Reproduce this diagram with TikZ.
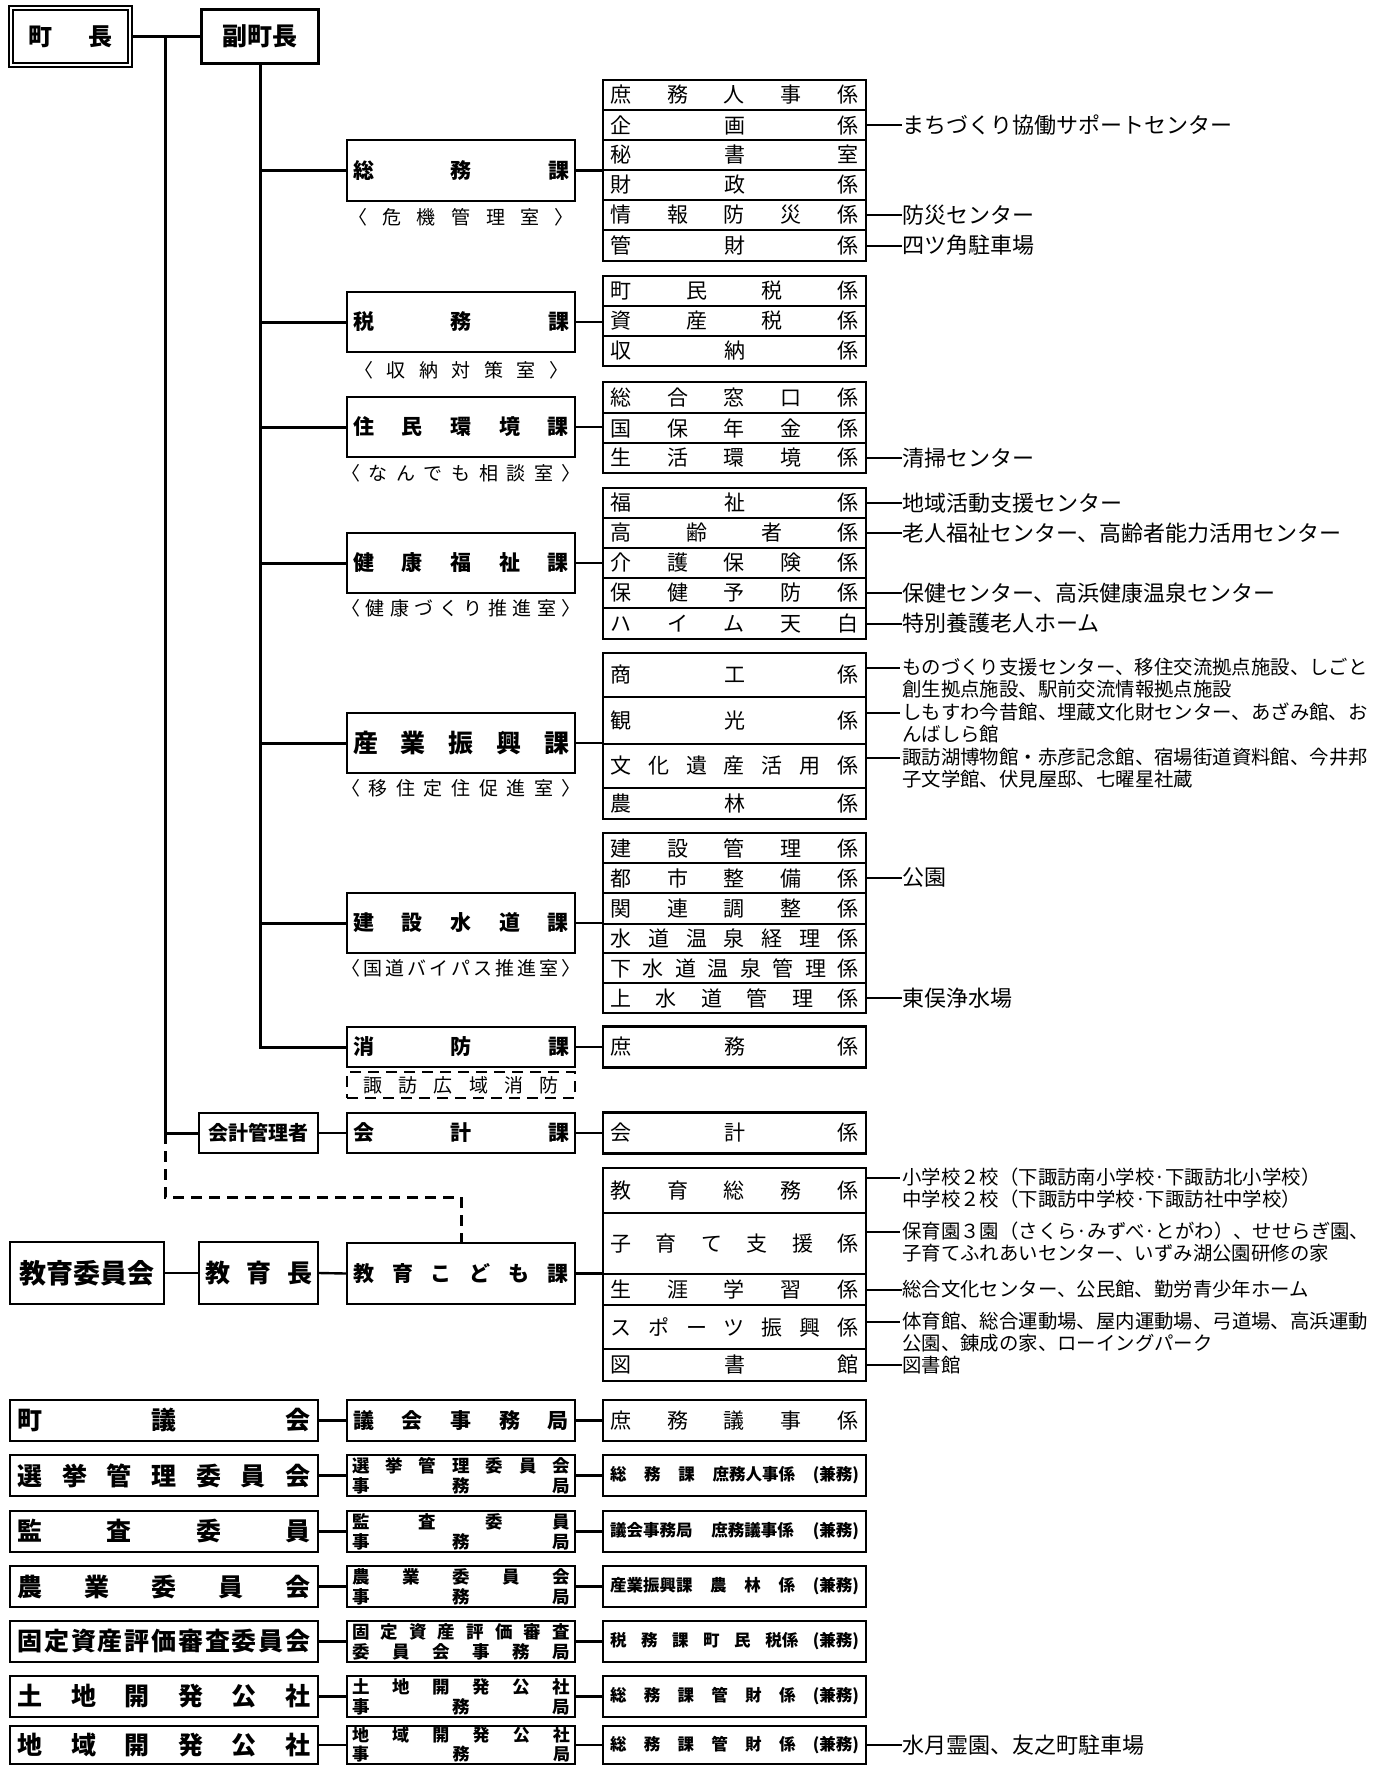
\documentclass[tikz,border=0pt]{standalone}
\usepackage{fontspec}
\setmainfont{Noto Sans CJK JP}
\usepackage{tikz}
\usetikzlibrary{matrix,shapes,arrows,positioning,chains}

\def\sprdnext#1{\ifx\relax#1\else\hfill#1\expandafter\sprdnext\fi}
\def\sprdfirst#1{#1\sprdnext}
\newcommand\sprd[2]{\makebox[#1][s]{\sprdfirst#2\relax}}

\begin{document}
\begin{tikzpicture}[x=1pt,y=-1pt,
  box/.style={draw,line width=2.4pt,inner sep=0pt},
  kabox/.style={box,minimum width=228pt,font=\fontsize{21}{24}\selectfont\bfseries},
  rowbox/.style={box,minimum width=263pt,font=\fontsize{21}{24}\selectfont},
  topbox/.style={box,font=\fontsize{25}{28}\selectfont\bfseries},
  iinbox/.style={box,minimum width=308pt,minimum height=41pt,font=\fontsize{25}{28}\selectfont\bfseries},
  jimbox/.style={box,minimum width=228pt,minimum height=41pt,align=center,font=\fontsize{17.5}{20}\selectfont\bfseries},
  kenbox/.style={box,minimum width=263pt,minimum height=41pt,font=\fontsize{16.5}{19}\selectfont\bfseries},
  sublabel/.style={inner sep=0pt,font=\fontsize{19}{22}\selectfont},
  note/.style={anchor=west,inner sep=0pt,font=\fontsize{22}{24}\selectfont},
  notesm/.style={anchor=west,inner sep=0pt,font=\fontsize{19.4}{22}\selectfont},
  notetwo/.style={anchor=north west,inner sep=0pt,align=left,font=\fontsize{19.4}{22}\selectfont},
  spine/.style={line width=3pt},
  link/.style={line width=2.4pt},
  notelink/.style={line width=2pt},
  dsh/.style={line width=3pt,dash pattern=on 11pt off 7pt}
]
\fill[white] (0,0) rectangle (1385,1767);
\useasboundingbox (0,0) rectangle (1385,1767);

% top
\node[draw,double,line width=1.6pt,double distance=2pt,inner sep=0pt,minimum width=119pt,minimum height=57pt,
  font=\fontsize{24}{28}\selectfont\bfseries] (chocho) at (70.5,36.5) {\sprd{85pt}{町長}};
\node[topbox,minimum width=117pt,minimum height=54pt] (fuku) at (260,36.5) {副町長};
\coordinate (jct) at (165,36.5);

% ka
\node[kabox,minimum height=61pt] (somu) at (461,170.5) {\sprd{216pt}{総務課}};
\node[kabox,minimum height=60pt] (zeimu) at (461,322) {\sprd{216pt}{税務課}};
\node[kabox,minimum height=60pt] (jumin) at (461,427) {\sprd{216pt}{住民環境課}};
\node[kabox,minimum height=60pt] (kenko) at (461,563) {\sprd{216pt}{健康福祉課}};
\node[kabox,minimum height=60pt,font=\fontsize{25}{28}\selectfont\bfseries] (sangyo) at (461,743) {\sprd{216pt}{産業振興課}};
\node[kabox,minimum height=60pt] (kensetsu) at (461,923) {\sprd{216pt}{建設水道課}};
\node[kabox,minimum height=40pt] (shobo) at (461,1047) {\sprd{216pt}{消防課}};
\node[kabox,minimum height=40pt] (kaikei) at (461,1133) {\sprd{216pt}{会計課}};
\node[kabox,minimum height=61pt] (kyoiku) at (461,1273.5) {\sprd{216pt}{教育こども課}};

\node[sublabel] (lsomu) at (461,217) {\sprd{226pt}{〈危機管理室〉}};
\node[sublabel] (lzeimu) at (461,370) {\sprd{214pt}{〈収納対策室〉}};
\node[sublabel] (ljumin) at (461,473) {\sprd{240pt}{〈なんでも相談室〉}};
\node[sublabel] (lkenko) at (461,608) {\sprd{240pt}{〈健康づくり推進室〉}};
\node[sublabel] (lsangyo) at (461,788) {\sprd{240pt}{〈移住定住促進室〉}};
\node[sublabel] (lkensetsu) at (461,968) {\sprd{240pt}{〈国道バイパス推進室〉}};
\node[draw,dash pattern=on 11pt off 7pt,line width=2.6pt,inner sep=0pt,minimum width=228pt,minimum height=26pt,
  font=\fontsize{19}{22}\selectfont] (koiki) at (461,1085) {\sprd{195pt}{諏訪広域消防}};

\node[topbox,minimum width=119pt,minimum height=40pt,font=\fontsize{20}{24}\selectfont\bfseries] (kanri) at (258.5,1133) {会計管理者};
\node[topbox,minimum width=154pt,minimum height=62pt,font=\fontsize{27}{30}\selectfont\bfseries] (kyoiin) at (87,1273) {教育委員会};
\node[topbox,minimum width=119pt,minimum height=62pt] (kyoikucho) at (258.5,1273) {\sprd{107pt}{教育長}};
\coordinate (dshc) at (165,1197);

% kakari
\node[rowbox,minimum height=30pt] (s1) at (734.5,95) {\sprd{248pt}{庶務人事係}};
\node[rowbox,minimum height=30pt] (s2) at (734.5,125) {\sprd{248pt}{企画係}};
\node[rowbox,minimum height=30pt] (s3) at (734.5,155) {\sprd{248pt}{秘書室}};
\node[rowbox,minimum height=30pt] (s4) at (734.5,185) {\sprd{248pt}{財政係}};
\node[rowbox,minimum height=30pt] (s5) at (734.5,215) {\sprd{248pt}{情報防災係}};
\node[rowbox,minimum height=31pt] (s6) at (734.5,245.5) {\sprd{248pt}{管財係}};

\node[rowbox,minimum height=30pt] (z1) at (734.5,291) {\sprd{248pt}{町民税係}};
\node[rowbox,minimum height=30pt] (z2) at (734.5,321) {\sprd{248pt}{資産税係}};
\node[rowbox,minimum height=30pt] (z3) at (734.5,351) {\sprd{248pt}{収納係}};

\node[rowbox,minimum height=31pt] (j1) at (734.5,397.5) {\sprd{248pt}{総合窓口係}};
\node[rowbox,minimum height=30pt] (j2) at (734.5,428) {\sprd{248pt}{国保年金係}};
\node[rowbox,minimum height=30pt] (j3) at (734.5,458) {\sprd{248pt}{生活環境係}};

\node[rowbox,minimum height=30pt] (k1) at (734.5,503) {\sprd{248pt}{福祉係}};
\node[rowbox,minimum height=30pt] (k2) at (734.5,533) {\sprd{248pt}{高齢者係}};
\node[rowbox,minimum height=30pt] (k3) at (734.5,563) {\sprd{248pt}{介護保険係}};
\node[rowbox,minimum height=30pt] (k4) at (734.5,593) {\sprd{248pt}{保健予防係}};
\node[rowbox,minimum height=31pt] (k5) at (734.5,623.5) {\sprd{248pt}{ハイム天白}};

\node[rowbox,minimum height=44pt] (g1) at (734.5,675) {\sprd{248pt}{商工係}};
\node[rowbox,minimum height=47pt] (g2) at (734.5,720.5) {\sprd{248pt}{観光係}};
\node[rowbox,minimum height=44pt] (g3) at (734.5,766) {\sprd{248pt}{文化遺産活用係}};
\node[rowbox,minimum height=31pt] (g4) at (734.5,803.5) {\sprd{248pt}{農林係}};

\node[rowbox,minimum height=30pt] (c1) at (734.5,848) {\sprd{248pt}{建設管理係}};
\node[rowbox,minimum height=30pt] (c2) at (734.5,878) {\sprd{248pt}{都市整備係}};
\node[rowbox,minimum height=31pt] (c3) at (734.5,908.5) {\sprd{248pt}{関連調整係}};
\node[rowbox,minimum height=29pt] (c4) at (734.5,938.5) {\sprd{248pt}{水道温泉経理係}};
\node[rowbox,minimum height=30pt] (c5) at (734.5,968) {\sprd{248pt}{下水道温泉管理係}};
\node[rowbox,minimum height=30pt] (c6) at (734.5,998) {\sprd{248pt}{上水道管理係}};

\node[rowbox,minimum height=41pt] (f1) at (734.5,1047) {\sprd{248pt}{庶務係}};
\node[rowbox,minimum height=41pt] (a1) at (734.5,1133) {\sprd{248pt}{会計係}};

\node[rowbox,minimum height=45pt] (e1) at (734.5,1190.5) {\sprd{248pt}{教育総務係}};
\node[rowbox,minimum height=61pt] (e2) at (734.5,1243.5) {\sprd{248pt}{子育て支援係}};
\node[rowbox,minimum height=31pt] (e3) at (734.5,1289.5) {\sprd{248pt}{生涯学習係}};
\node[rowbox,minimum height=44pt] (e4) at (734.5,1327) {\sprd{248pt}{スポーツ振興係}};
\node[rowbox,minimum height=32pt] (e5) at (734.5,1365) {\sprd{248pt}{図書館}};

% iinkai
\node[iinbox] (b1) at (164,1420.5) {\sprd{293pt}{町議会}};
\node[iinbox] (b2) at (164,1475.5) {\sprd{293pt}{選挙管理委員会}};
\node[iinbox] (b3) at (164,1531.5) {\sprd{293pt}{監査委員}};
\node[iinbox] (b4) at (164,1586.5) {\sprd{293pt}{農業委員会}};
\node[iinbox] (b5) at (164,1641.5) {\sprd{293pt}{固定資産評価審査委員会}};
\node[iinbox] (b6) at (164,1696.5) {\sprd{293pt}{土地開発公社}};
\node[iinbox,minimum height=38pt] (b7) at (164,1745) {\sprd{293pt}{地域開発公社}};

\node[kabox,minimum height=41pt] (m1) at (461,1420.5) {\sprd{216pt}{議会事務局}};
\node[jimbox] (m2) at (461,1475.5) {\sprd{218pt}{選挙管理委員会}\\\sprd{218pt}{事務局}};
\node[jimbox] (m3) at (461,1531.5) {\sprd{218pt}{監査委員}\\\sprd{218pt}{事務局}};
\node[jimbox] (m4) at (461,1586.5) {\sprd{218pt}{農業委員会}\\\sprd{218pt}{事務局}};
\node[jimbox] (m5) at (461,1641.5) {\sprd{218pt}{固定資産評価審査}\\\sprd{218pt}{委員会事務局}};
\node[jimbox] (m6) at (461,1696.5) {\sprd{218pt}{土地開発公社}\\\sprd{218pt}{事務局}};
\node[jimbox,minimum height=38pt,font=\fontsize{17}{19}\selectfont\bfseries] (m7) at (461,1745) {\sprd{218pt}{地域開発公社}\\\sprd{218pt}{事務局}};

\node[rowbox,minimum height=41pt] (r1) at (734.5,1420.5) {\sprd{248pt}{庶務議事係}};
\node[kenbox] (r2) at (734.5,1475.5) {\makebox[249pt][s]{総\hfill 務\hfill 課\hfill 庶務人事係\hfill(兼務)}};
\node[kenbox] (r3) at (734.5,1531.5) {\makebox[249pt][s]{議会事務局\hfill 庶務議事係\hfill(兼務)}};
\node[kenbox] (r4) at (734.5,1586.5) {\makebox[249pt][s]{産業振興課\hfill 農\hfill 林\hfill 係\hfill(兼務)}};
\node[kenbox] (r5) at (734.5,1641.5) {\makebox[249pt][s]{税\hfill 務\hfill 課\hfill 町\hfill 民\hfill 税係\hfill(兼務)}};
\node[kenbox] (r6) at (734.5,1696.5) {\makebox[249pt][s]{総\hfill 務\hfill 課\hfill 管\hfill 財\hfill 係\hfill(兼務)}};
\node[kenbox,minimum height=38pt] (r7) at (734.5,1745) {\makebox[249pt][s]{総\hfill 務\hfill 課\hfill 管\hfill 財\hfill 係\hfill(兼務)}};

% notes
\node[note] (ns2) at (902,125) {まちづくり協働サポートセンター};
\node[note] (ns5) at (902,215) {防災センター};
\node[note] (ns6) at (902,245.5) {四ツ角駐車場};
\node[note] (nj3) at (902,458) {清掃センター};
\node[note] (nk1) at (902,503) {地域活動支援センター};
\node[note] (nk2) at (902,533) {老人福祉センター、高齢者能力活用センター};
\node[note] (nk4) at (902,593) {保健センター、高浜健康温泉センター};
\node[note] (nk5) at (902,623.5) {特別養護老人ホーム};
\coordinate (cg1) at (900,668);
\coordinate (cg2) at (900,713);
\coordinate (cg3) at (900,758);
\node[notetwo] (ng1) at (902,658) {ものづくり支援センター、移住交流拠点施設、しごと\\創生拠点施設、駅前交流情報拠点施設};
\node[notetwo] (ng2) at (902,703) {しもすわ今昔館、埋蔵文化財センター、あざみ館、お\\んばしら館};
\node[notetwo] (ng3) at (902,748) {諏訪湖博物館・赤彦記念館、宿場街道資料館、今井邦\\子文学館、伏見屋邸、七曜星社蔵};
\node[note] (nc2) at (902,878) {公園};
\node[note] (nc6) at (902,998) {東俣浄水場};
\coordinate (ce1) at (900,1178);
\coordinate (ce2) at (900,1232);
\coordinate (ce4) at (900,1322);
\node[notetwo] (ne1) at (902,1168) {小学校２校（下諏訪南小学校·下諏訪北小学校）\\中学校２校（下諏訪中学校·下諏訪社中学校）};
\node[notetwo] (ne2) at (902,1222) {保育園３園（さくら·みずべ·とがわ）、せせらぎ園、\\子育てふれあいセンター、いずみ湖公園研修の家};
\node[notesm] (ne3) at (902,1289.5) {総合文化センター、公民館、勤労青少年ホーム};
\node[notetwo] (ne4) at (902,1312) {体育館、総合運動場、屋内運動場、弓道場、高浜運動\\公園、錬成の家、ローイングパーク};
\node[notesm] (ne5) at (902,1365) {図書館};
\node[note] (nr7) at (902,1745) {水月霊園、友之町駐車場};

% spine
\draw[spine] (chocho.east) -- (fuku.west);
\draw[spine] (jct) -- (jct |- kanri.west) -- (kanri.west);
\draw[dsh] (jct |- kanri.west) -- (dshc) -| (kyoiku.north);
\draw[spine] (fuku.south) -- (fuku.south |- shobo.west) -- (shobo.west);
\draw[spine] (fuku.south |- somu.west) -- (somu.west);
\draw[spine] (fuku.south |- zeimu.west) -- (zeimu.west);
\draw[spine] (fuku.south |- jumin.west) -- (jumin.west);
\draw[spine] (fuku.south |- kenko.west) -- (kenko.west);
\draw[spine] (fuku.south |- sangyo.west) -- (sangyo.west);
\draw[spine] (fuku.south |- kensetsu.west) -- (kensetsu.west);

\draw[link] (somu.east) -- (somu.east -| s1.west);
\draw[link] (zeimu.east) -- (zeimu.east -| z1.west);
\draw[link] (jumin.east) -- (jumin.east -| j1.west);
\draw[link] (kenko.east) -- (kenko.east -| k1.west);
\draw[link] (sangyo.east) -- (sangyo.east -| g1.west);
\draw[link] (kensetsu.east) -- (kensetsu.east -| c1.west);
\draw[link] (shobo.east) -- (f1.west);
\draw[link] (kanri.east) -- (kaikei.west);
\draw[link] (kaikei.east) -- (a1.west);
\draw[link] (kyoiin.east) -- (kyoikucho.west);
\draw[link] (kyoikucho.east) -- (kyoiku.west);
\draw[link] (kyoiku.east) -- (kyoiku.east -| e1.west);

\draw[link] (b1.east) -- (m1.west) (m1.east) -- (r1.west);
\draw[link] (b2.east) -- (m2.west) (m2.east) -- (r2.west);
\draw[link] (b3.east) -- (m3.west) (m3.east) -- (r3.west);
\draw[link] (b4.east) -- (m4.west) (m4.east) -- (r4.west);
\draw[link] (b5.east) -- (m5.west) (m5.east) -- (r5.west);
\draw[link] (b6.east) -- (m6.west) (m6.east) -- (r6.west);
\draw[link] (b7.east) -- (m7.west) (m7.east) -- (r7.west);

\draw[notelink] (s2.east) -- (ns2.west);
\draw[notelink] (s5.east) -- (ns5.west);
\draw[notelink] (s6.east) -- (ns6.west);
\draw[notelink] (j3.east) -- (nj3.west);
\draw[notelink] (k1.east) -- (nk1.west);
\draw[notelink] (k2.east) -- (nk2.west);
\draw[notelink] (k4.east) -- (nk4.west);
\draw[notelink] (k5.east) -- (nk5.west);
\draw[notelink] (g1.east |- cg1) -- (cg1);
\draw[notelink] (g2.east |- cg2) -- (cg2);
\draw[notelink] (g3.east |- cg3) -- (cg3);
\draw[notelink] (c2.east) -- (nc2.west);
\draw[notelink] (c6.east) -- (nc6.west);
\draw[notelink] (e1.east |- ce1) -- (ce1);
\draw[notelink] (e2.east |- ce2) -- (ce2);
\draw[notelink] (e3.east) -- (ne3.west);
\draw[notelink] (e4.east |- ce4) -- (ce4);
\draw[notelink] (e5.east) -- (ne5.west);
\draw[notelink] (r7.east) -- (nr7.west);

\end{tikzpicture}
\end{document}
